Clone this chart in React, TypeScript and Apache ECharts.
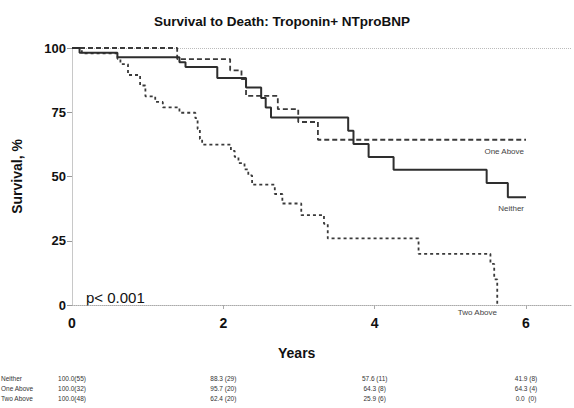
import React, { useEffect, useRef } from "react";
import * as echarts from "echarts";

const neitherTimes = [0, 0.1, 0.6, 1.42, 1.5, 1.92, 2.3, 2.5, 2.56, 2.63, 3.65, 3.72, 3.92, 4.25, 5.48, 5.76, 6.0];
const neitherSurv = [100, 98.2, 96.4, 94.5, 92.6, 88.3, 84.6, 80.5, 76.8, 73.0, 67.8, 62.6, 57.6, 52.6, 47.5, 41.9, 41.9];

const oneTimes = [0, 1.39, 2.09, 2.24, 2.3, 2.72, 2.99, 3.25, 6.0];
const oneSurv = [100, 95.7, 91.3, 87.9, 81.4, 76.2, 71.2, 64.3, 64.3];

const twoTimes = [0, 0.13, 0.6, 0.64, 0.74, 0.9, 0.97, 1.1, 1.2, 1.42, 1.63, 1.66, 1.69, 1.72, 2.1, 2.15, 2.2, 2.28, 2.33, 2.38, 2.68, 2.78, 3.03, 3.33, 3.38, 4.58, 5.53, 5.58, 5.62];
const twoSurv = [100, 97.9, 95.8, 93.7, 89.5, 85.4, 81.2, 79.0, 76.9, 74.8, 72.7, 68.5, 64.6, 62.4, 60.0, 57.6, 55.2, 52.8, 50.4, 46.8, 43.2, 39.5, 35.0, 31.6, 25.9, 19.9, 16.0, 10.0, 0];

const xTicks = [0, 2, 4, 6];
const groupNames = ["Neither", "One Above", "Two Above"];
const riskTable = [
  ["100.0(55)", "88.3 (29)", "57.6 (11)", "41.9 (8)"],
  ["100.0(32)", "95.7 (20)", "64.3 (8)", "64.3 (4)"],
  ["100.0(48)", "62.4 (20)", "25.9 (6)", "0.0  (0)"],
];

const FONT = "'Liberation Sans', Arial, sans-serif";

function pairs(t: number[], s: number[]) {
  return t.map((v, i) => [v, s[i]]);
}

export default function App() {
  const ref = useRef<HTMLDivElement>(null);
  useEffect(() => {
    if (!ref.current) return;
    const chart = echarts.init(ref.current, null, { renderer: "svg" });
    const lineColor = "#3a3a3a";
    chart.setOption({
      animation: false,
      backgroundColor: "#fff",
      title: {
        text: "Survival to Death: Troponin+ NTproBNP",
        left: 277,
        textAlign: "center",
        top: 9,
        textStyle: { fontFamily: FONT, fontSize: 13.5, fontWeight: "bold", color: "#111" },
      },
      grid: { left: 72, top: 48, width: 499.4, height: 257 },
      xAxis: {
        type: "value",
        min: 0,
        max: 6.6,
        interval: 2,
        name: "Years",
        nameLocation: "middle",
        nameGap: 41,
        nameTextStyle: { fontFamily: FONT, fontSize: 14, fontWeight: "bold", color: "#111", padding: [0, 50, 0, 0] },
        axisLine: { show: true, lineStyle: { color: "#aaa", type: "dotted", width: 1 } },
        axisTick: { show: true, customValues: [2, 4, 6], length: 4, lineStyle: { color: "#aaa" } },
        axisLabel: {
          customValues: xTicks,
          margin: 11,
          fontFamily: FONT,
          fontSize: 14,
          fontWeight: "bold",
          color: "#111",
        },
        splitLine: { show: false },
      },
      yAxis: {
        type: "value",
        min: 0,
        max: 100,
        interval: 25,
        name: "Survival, %",
        nameLocation: "middle",
        nameGap: 48,
        nameRotate: 90,
        nameTextStyle: { fontFamily: FONT, fontSize: 14, fontWeight: "bold", color: "#111" },
        axisLine: { show: true, lineStyle: { color: "#c8c8c8", width: 1 } },
        axisTick: { show: true, length: 5, lineStyle: { color: "#999" } },
        axisLabel: { margin: 6, fontFamily: FONT, fontSize: 13, fontWeight: "bold", color: "#111" },
        splitLine: { show: false },
      },
      series: [
        {
          name: "Neither",
          type: "line",
          step: "end",
          symbol: "none",
          data: pairs(neitherTimes, neitherSurv),
          lineStyle: { color: "#2e2e2e", width: 2 },
          z: 3,
          markLine: {
            silent: true,
            symbol: "none",
            label: { show: false },
            lineStyle: { color: "#bbb", type: "dotted", width: 1 },
            data: [{ yAxis: 100 }],
            z: 1,
          },
        },
        {
          name: "One Above",
          type: "line",
          step: "end",
          symbol: "none",
          data: pairs(oneTimes, oneSurv),
          lineStyle: { color: lineColor, width: 1.8, type: [5, 3] },
          z: 2,
        },
        {
          name: "Two Above",
          type: "line",
          step: "end",
          symbol: "none",
          data: pairs(twoTimes, twoSurv),
          lineStyle: { color: lineColor, width: 1.8, type: [3, 3] },
          z: 2,
        },
      ],
    });

    const colX = xTicks.map((v) => chart.convertToPixel({ xAxisIndex: 0 }, v) as number);
    const rowY = [378, 388, 398];
    const graphics: any[] = [];
    groupNames.forEach((g, r) => {
      graphics.push({
        type: "text",
        x: 1,
        y: rowY[r],
        style: { text: g, fontFamily: FONT, fontSize: 6.5, fill: "#333", textVerticalAlign: "middle" },
      });
      riskTable[r].forEach((txt, c) => {
        graphics.push({
          type: "text",
          x: colX[c],
          y: rowY[r],
          style: {
            text: txt,
            fontFamily: FONT,
            fontSize: 6.5,
            fill: "#333",
            textAlign: "center",
            textVerticalAlign: "middle",
          },
        });
      });
    });
    graphics.push(
      {
        type: "text",
        x: 86,
        y: 297,
        style: { text: "p< 0.001", fontFamily: FONT, fontSize: 15, fill: "#111", textVerticalAlign: "middle" },
      },
      {
        type: "text",
        x: 524,
        y: 151,
        style: { text: "One Above", fontFamily: FONT, fontSize: 8, fill: "#444", textAlign: "right", textVerticalAlign: "middle" },
      },
      {
        type: "text",
        x: 524,
        y: 208,
        style: { text: "Neither", fontFamily: FONT, fontSize: 8, fill: "#444", textAlign: "right", textVerticalAlign: "middle" },
      },
      {
        type: "text",
        x: 497,
        y: 312,
        style: { text: "Two Above", fontFamily: FONT, fontSize: 8, fill: "#444", textAlign: "right", textVerticalAlign: "middle" },
      }
    );
    chart.setOption({ graphic: graphics });

    return () => chart.dispose();
  }, []);
  return (
    <div
      ref={ref}
      style={{ position: "fixed", left: 0, top: 0, width: 574, height: 408, background: "#fff" }}
    />
  );
}
